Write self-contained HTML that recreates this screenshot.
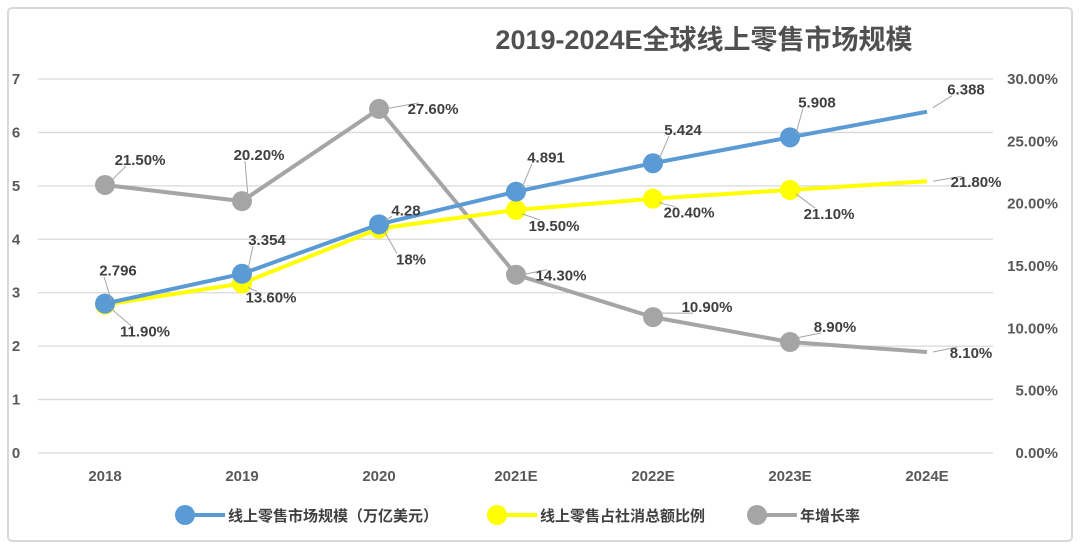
<!DOCTYPE html>
<html><head><meta charset="utf-8"><style>
body{margin:0;background:#fff;}
svg{display:block;font-family:"Liberation Sans","Noto Sans CJK SC",sans-serif;}
</style></head><body>
<svg id="c" width="1080" height="551">
<rect x="8" y="8" width="1064" height="533" rx="4" fill="#fff" stroke="#d9d9d9" stroke-width="2"/>
<text x="704" y="49" text-anchor="middle" font-size="27" font-weight="bold" fill="#505050">2019-2024E全球线上零售市场规模</text>
<g id="grid"></g><g id="series"></g><g id="labels"></g>
<g>
<g><line x1="185" y1="515" x2="225" y2="515" stroke="#5b9bd5" stroke-width="4"/><circle cx="185" cy="515" r="10" fill="#5b9bd5"/><text x="228" y="521" font-size="15" font-weight="bold" fill="#404040">线上零售市场规模（万亿美元）</text></g>
<g><line x1="497" y1="515" x2="537" y2="515" stroke="#ffff00" stroke-width="4"/><circle cx="497" cy="515" r="10" fill="#ffff00"/><text x="540" y="521" font-size="15" font-weight="bold" fill="#404040">线上零售占社消总额比例</text></g>
<g><line x1="757" y1="515" x2="797" y2="515" stroke="#a5a5a5" stroke-width="4"/><circle cx="757" cy="515" r="10" fill="#a5a5a5"/><text x="800" y="521" font-size="15" font-weight="bold" fill="#404040">年增长率</text></g>
</g>
</svg>
<script>
const categories=["2018","2019","2020","2021E","2022E","2023E","2024E"];
const marketSize=[2.796,3.354,4.28,4.891,5.424,5.908,6.388];
const sharePct=[11.9,13.6,18,19.5,20.4,21.1,21.8];
const growthPct=[21.5,20.2,27.6,14.3,10.9,8.9,8.1];
const marketLabels=["2.796","3.354","4.28","4.891","5.424","5.908","6.388"];
const shareLabels=["11.90%","13.60%","18%","19.50%","20.40%","21.10%","21.80%"];
const growthLabels=["21.50%","20.20%","27.60%","14.30%","10.90%","8.90%","8.10%"];
const leftTicks=[0,1,2,3,4,5,6,7];
const rightTicks=["0.00%","5.00%","10.00%","15.00%","20.00%","25.00%","30.00%"];
const NS="http://www.w3.org/2000/svg";
const y0=453,yTop=79,x0=105,dx=137;
const xS=i=>x0+i*dx;
const yL=v=>y0-(v/7)*(y0-yTop);
const yR=p=>y0-(p/30)*(y0-yTop);
function mk(tag,attrs,parent){const e=document.createElementNS(NS,tag);for(const k in attrs)e.setAttribute(k,attrs[k]);parent.appendChild(e);return e;}
const grid=document.getElementById('grid'),ser=document.getElementById('series'),lab=document.getElementById('labels');
leftTicks.forEach(v=>{
 const l=mk('line',{x1:38,x2:993,y1:yL(v),y2:yL(v),stroke:'#d9d9d9','stroke-width':1.3},grid);
 
 
 const t=mk('text',{x:16,y:yL(v)+5,'font-size':15,'font-weight':'bold',fill:'#595959','text-anchor':'middle'},grid);t.textContent=v;
 
 
});
rightTicks.forEach((s,i)=>{
 const t=mk('text',{x:1058,y:yR(i*5)+5,'font-size':15,'font-weight':'bold',fill:'#595959','text-anchor':'end'},grid);t.textContent=s;
 
 
});
categories.forEach((c,i)=>{
 const t=mk('text',{x:xS(i),y:481,'font-size':15,'font-weight':'bold',fill:'#595959','text-anchor':'middle'},grid);t.textContent=c;
 
 
});
function series(vals,yf,color,name,labels,offs){
 const g=mk('g',{},ser);
 
 
 const pts=vals.map((v,i)=>xS(i)+','+yf(v)).join(' ');
 const pl=mk('polyline',{points:pts,fill:'none',stroke:color,'stroke-width':4,'stroke-linejoin':'round'},g);
 
 
 vals.forEach((v,i)=>{
  const px=xS(i),py=yf(v);
  if(i<vals.length-1){const c=mk('circle',{cx:px,cy:py,r:10,fill:color},g);
   
   }
  const o=offs[i];
  const lx=px+o[0],ly=py+o[1];
  mk('line',{x1:px+(o[0]>0?6:0),y1:py+(o[1]<-5?-4:o[1]>5?4:0),x2:lx-(o[0]>0?14:0),y2:ly+(o[1]<0?6:-6),stroke:'#a6a6a6','stroke-width':1},lab);
  const t=mk('text',{x:lx,y:ly+5,'font-size':15,'font-weight':'bold',fill:'#404040','text-anchor':'middle'},lab);t.textContent=labels[i];
  
  
 });
}
series(growthPct,yR,'#a5a5a5','growth',growthLabels,[[35,-25],[17,-46],[54,0],[45,1],[54,-10],[45,-15],[44,1]]);
series(sharePct,yR,'#ffff00','share',shareLabels,[[40,27],[29,14],[32,31],[38,16],[36,14],[39,24],[49,1]]);
series(marketSize,yL,'#5b9bd5','market',marketLabels,[[13,-33],[25,-34],[27,-14],[30,-34],[30,-33],[27,-35],[39,-22]]);
</script>
</body></html>
